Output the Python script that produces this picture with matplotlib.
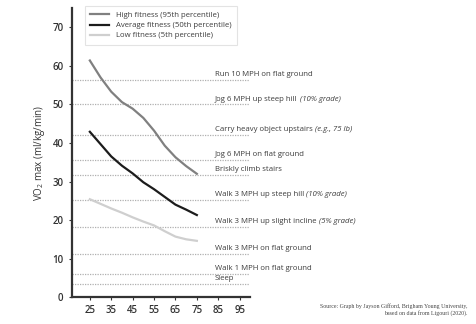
import numpy as np
import matplotlib.pyplot as plt

plt.rcParams['font.family'] = ['Open Sans', 'DejaVu Sans']
plt.rcParams['mathtext.fontset'] = 'custom'
plt.rcParams['mathtext.rm'] = 'Open Sans'

ages = [25, 30, 35, 40, 45, 50, 55, 60, 65, 70, 75]
high_fit = [61.4, 57.0, 53.3, 50.6, 48.9, 46.5, 43.2, 39.3, 36.3, 34.0, 32.0]
avg_fit = [42.9, 39.7, 36.5, 34.1, 32.1, 29.8, 28.0, 26.0, 24.0, 22.7, 21.3]
low_fit = [25.4, 24.2, 23.0, 21.9, 20.7, 19.6, 18.6, 17.1, 15.7, 15.0, 14.6]

activities = ['Run 10 MPH on flat ground',
              'Jog 6 MPH up steep hill',
              'Carry heavy object upstairs',
              'Jog 6 MPH on flat ground',
              'Briskly climb stairs',
              'Walk 3 MPH up steep hill',
              'Walk 3 MPH up slight incline',
              'Walk 3 MPH on flat ground',
              'Walk 1 MPH on flat ground',
              'Sleep']
activity_notes = ['', '(10% grade)', '(e.g., 75 lb)', '', '', '(10% grade)',
                  '(5% grade)', '', '', '']
activity_vo2 = [56.3, 50.0, 42.0, 35.7, 31.6, 25.3, 18.2, 11.1, 6.1, 3.4]

xticks = [25, 35, 45, 55, 65, 75, 85, 95]
yticks = [0, 10, 20, 30, 40, 50, 60, 70]

fig = plt.figure(figsize=(4.76, 3.24), dpi=100)
ax = fig.add_axes([0.151, 0.083, 0.374, 0.892])

for y, lab, note in zip(activity_vo2, activities, activity_notes):
    ax.axhline(y, color='#b0b0b0', lw=0.9, ls=(0, (1, 1)), zorder=1)
    t = ax.text(83.5, y + 0.5, lab, fontsize=5.6, color='#3c3c3c', va='bottom',
                ha='left', clip_on=False)
    if note:
        ax.annotate(' ' + note, xy=(1, 0), xycoords=t, va='bottom', ha='left',
                    fontsize=5.6, color='#3c3c3c', style='italic',
                    annotation_clip=False)

ax.plot(ages, high_fit, color='#808080', lw=1.6, label='High fitness (95th percentile)', zorder=3)
ax.plot(ages, avg_fit, color='#1c1c1c', lw=1.6, label='Average fitness (50th percentile)', zorder=3)
ax.plot(ages, low_fit, color='#cfcfcf', lw=1.6, label='Low fitness (5th percentile)', zorder=3)

ax.set_xlim(16.6, 99.8)
ax.set_ylim(0, 75)
ax.set_xticks(xticks)
ax.set_yticks(yticks)
ax.tick_params(labelsize=7, colors='#333333', length=2, width=0.8, pad=4)
for lbl in ax.get_xticklabels() + ax.get_yticklabels():
    lbl.set_fontweight('semibold')
for s in ['top', 'right']:
    ax.spines[s].set_visible(False)
for s in ['left', 'bottom']:
    ax.spines[s].set_linewidth(1.6)
    ax.spines[s].set_color('#333333')

ax.set_ylabel('VO$_2$ max (ml/kg/min)', fontsize=7, color='#333333', labelpad=4)

leg = ax.legend(loc='upper left', bbox_to_anchor=(0.05, 1.02), fontsize=5.6,
                frameon=True, fancybox=False, handlelength=2.4, borderpad=0.7,
                labelspacing=0.35, handletextpad=0.9)
leg.get_frame().set_edgecolor('#dddddd')
leg.get_frame().set_linewidth(0.8)
for t in leg.get_texts():
    t.set_color('#3c3c3c')

fig.text(0.983, 0.045, 'Source: Graph by Jayson Gifford, Brigham Young University,\nbased on data from Ligouri (2020).',
         ha='right', va='center', fontsize=4.2, family='Liberation Serif',
         color='#444444', linespacing=1.3)

fig.savefig('out.png', dpi=100)
